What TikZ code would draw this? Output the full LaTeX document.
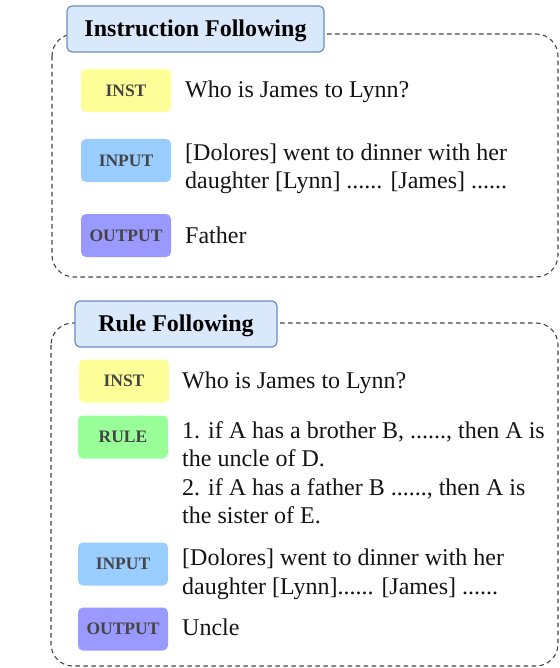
\documentclass[tikz,border=0pt]{standalone}
\usepackage{fontspec}
\setmainfont{Liberation Serif}
\definecolor{titlefill}{HTML}{DAE8FC}
\definecolor{titledraw}{HTML}{6C8EBF}
\definecolor{instfill}{HTML}{FFFF99}
\definecolor{rulefill}{HTML}{99FF99}
\definecolor{inputfill}{HTML}{99CCFF}
\definecolor{outputfill}{HTML}{9999FF}
\definecolor{labeltext}{HTML}{444444}
\definecolor{bodytext}{HTML}{141414}
\definecolor{dashgray}{HTML}{444444}
\tikzset{
  groupbox/.style={draw=dashgray, line width=1.1pt, dash pattern=on 4.5pt off 3.5pt, rounded corners=22pt},
  titlebox/.style={draw=titledraw, fill=titlefill, line width=1.2pt, rounded corners=5pt,
    minimum height=46pt, inner sep=0pt, text depth=1pt, font=\fontsize{24}{28}\selectfont\bfseries, text=black},
  tagbox/.style={rounded corners=5pt, minimum width=90pt, minimum height=43pt, inner sep=0pt,
    font=\fontsize{17.5}{20}\selectfont\bfseries, text=labeltext},
  bodytxt/.style={anchor=base west, inner sep=0pt, text=bodytext, font=\fontsize{24}{28.5}\selectfont}
}
\newcommand{\bodylines}[1]{\parbox[t]{372pt}{\raggedright\fontsize{24}{28.5}\selectfont #1}}
\begin{document}
\begin{tikzpicture}[x=1pt,y=-1pt]
\useasboundingbox (0,0) rectangle (559,668);
% ---------- Instruction Following ----------
\draw[groupbox] (52,34) rectangle (558,277);
\node[titlebox, minimum width=257pt] (t1) at (195.5,29) {Instruction Following};
\node[tagbox, fill=instfill] (inst1) at (126,90.5) {INST};
\node[tagbox, fill=inputfill] (input1) at (126,160.5) {INPUT};
\node[tagbox, fill=outputfill] (output1) at (126,235.5) {OUTPUT};
\node[bodytxt] (q1) at (185,98) {Who is James to Lynn?};
\node[bodytxt] (in1) at (185,160.5) {\bodylines{[Dolores] went to dinner with her\\daughter [Lynn] ...... [James] ......}};
\node[bodytxt] (out1) at (185,243) {Father};
% ---------- Rule Following ----------
\draw[groupbox] (51,323) rectangle (558,666);
\node[titlebox, minimum width=202pt] (t2) at (176,324) {Rule Following};
\node[tagbox, fill=instfill] (inst2) at (124,381) {INST};
\node[tagbox, fill=rulefill] (rule2) at (123,437) {RULE};
\node[tagbox, fill=inputfill] (input2) at (123,564) {INPUT};
\node[tagbox, fill=outputfill] (output2) at (123,629) {OUTPUT};
\node[bodytxt] (q2) at (182,388) {Who is James to Lynn?};
\node[bodytxt] (r2) at (182,438) {\bodylines{1. if A has a brother B, ......, then A is\\the uncle of D.\\2. if A has a father B ......, then A is\\the sister of E.}};
\node[bodytxt] (in2) at (182,565.5) {\bodylines{[Dolores] went to dinner with her\\daughter [Lynn]...... [James] ......}};
\node[bodytxt] (out2) at (182,635.5) {Uncle};
\end{tikzpicture}
\end{document}
